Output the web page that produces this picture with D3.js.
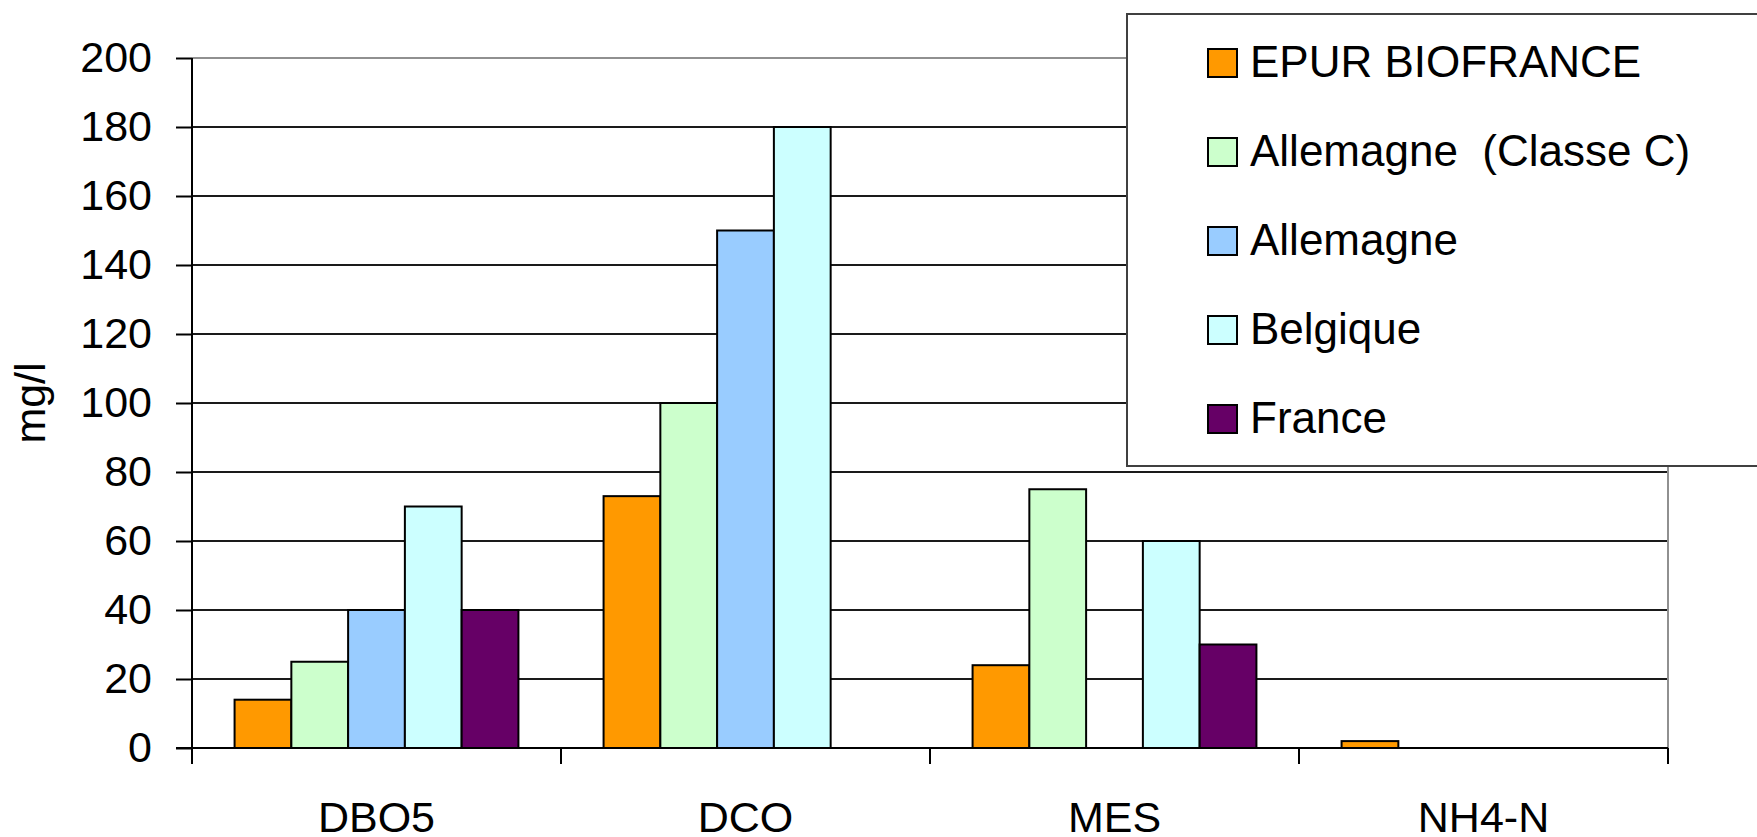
<!DOCTYPE html>
<html>
<head>
<meta charset="utf-8">
<script src="https://cdn.jsdelivr.net/npm/d3@7"></script>
<style>
  html, body { margin: 0; padding: 0; background: #fff; }
  svg { display: block; font-family: "Liberation Sans", Arial, sans-serif; }
</style>
</head>
<body>
<svg id="chart" width="1757" height="837"></svg>
<script>
// data
var categories = ["DBO5", "DCO", "MES", "NH4-N"];
var series = ["EPUR BIOFRANCE", "Allemagne  (Classe C)", "Allemagne", "Belgique", "France"];
var colours = ["#FF9900", "#CCFFCC", "#99CCFF", "#CCFFFF", "#660066"];
var epur = [14, 73, 24, 2];
var allemagneC = [25, 100, 75, null];
var allemagne = [40, 150, null, null];
var belgique = [70, 180, 60, null];
var france = [40, null, 30, null];
var yTicks = [0, 20, 40, 60, 80, 100, 120, 140, 160, 180, 200];

var values = [epur, allemagneC, allemagne, belgique, france];

var svg = d3.select("#chart");
// note: "top" is taken by window.top, so use plot* names
var plotLeft = 192, plotRight = 1668, plotTop = 58, plotBottom = 748;

var y = d3.scaleLinear().domain([0, 200]).range([plotBottom, plotTop]);
var x = d3.scaleBand().domain(categories).range([plotLeft, plotRight]);
// excel style: 150% gap width between groups
var xs = d3.scaleBand().domain(d3.range(series.length))
    .range([0, x.bandwidth()]).paddingInner(0).paddingOuter(0.75);

// gridlines
svg.append("g").selectAll("line")
    .data(yTicks.filter(d => d > 0))
    .enter().append("line")
    .attr("x1", plotLeft).attr("x2", plotRight)
    .attr("y1", d => y(d)).attr("y2", d => y(d))
    .attr("stroke", d => d === 200 ? "#909090" : "#1a1a1a")
    .attr("stroke-width", 2);

// plot area right border
svg.append("line")
    .attr("x1", plotRight).attr("x2", plotRight)
    .attr("y1", plotTop).attr("y2", plotBottom)
    .attr("stroke", "#909090").attr("stroke-width", 2);

// bars
var rows = [];
categories.forEach(function(c, i) {
    values.forEach(function(v, s) {
        if (v[i] !== null) rows.push({cat: c, s: s, v: v[i]});
    });
});
svg.append("g").selectAll("rect")
    .data(rows)
    .enter().append("rect")
    .attr("x", d => x(d.cat) + xs(d.s))
    .attr("width", xs.bandwidth())
    .attr("y", d => y(d.v))
    .attr("height", d => y(0) - y(d.v))
    .attr("fill", d => colours[d.s])
    .attr("stroke", "#000")
    .attr("stroke-width", 2);

// y axis
var yAxis = svg.append("g")
    .attr("transform", "translate(" + plotLeft + ",0)")
    .call(d3.axisLeft(y).tickValues(yTicks).tickSize(16).tickPadding(24));
yAxis.select(".domain").remove();
yAxis.selectAll(".tick line").attr("stroke", "#000").attr("stroke-width", 2);
yAxis.selectAll(".tick text")
    .attr("fill", "#000").style("font-size", "43px")
    .style("font-family", "'Liberation Sans', Arial, sans-serif");

svg.append("line")
    .attr("x1", plotLeft).attr("x2", plotLeft)
    .attr("y1", plotTop).attr("y2", plotBottom + 16)
    .attr("stroke", "#000").attr("stroke-width", 2);

// x axis
svg.append("line")
    .attr("x1", plotLeft - 16).attr("x2", plotRight)
    .attr("y1", plotBottom).attr("y2", plotBottom)
    .attr("stroke", "#000").attr("stroke-width", 2);

var bounds = categories.map(c => x(c)).concat([x(categories[categories.length - 1]) + x.bandwidth()]);
svg.append("g").selectAll("line")
    .data(bounds.slice(1))
    .enter().append("line")
    .attr("x1", d => d).attr("x2", d => d)
    .attr("y1", plotBottom).attr("y2", plotBottom + 16)
    .attr("stroke", "#000").attr("stroke-width", 2);

svg.append("g").selectAll("text")
    .data(categories)
    .enter().append("text")
    .attr("x", d => x(d) + x.bandwidth() / 2)
    .attr("y", 832)
    .attr("text-anchor", "middle")
    .style("font-size", "43px")
    .text(d => d);

// y title
svg.append("text")
    .attr("transform", "translate(45,403) rotate(-90)")
    .attr("text-anchor", "middle")
    .style("font-size", "43px")
    .text("mg/l");

// legend
var legend = svg.append("g");
legend.append("rect")
    .attr("x", 1127).attr("y", 14)
    .attr("width", 700).attr("height", 452)
    .attr("fill", "#fff")
    .attr("stroke", "#404040").attr("stroke-width", 2);

var items = legend.selectAll("g.item")
    .data(series)
    .enter().append("g")
    .attr("class", "item")
    .attr("transform", (d, i) => "translate(1208," + (49 + i * 89) + ")");
items.append("rect")
    .attr("width", 29).attr("height", 28)
    .attr("fill", (d, i) => colours[i])
    .attr("stroke", "#000").attr("stroke-width", 2);
items.append("text")
    .attr("x", 42).attr("y", 28)
    .style("font-size", "44px")
    .style("white-space", "pre")
    .text(d => d);
</script>
</body>
</html>
